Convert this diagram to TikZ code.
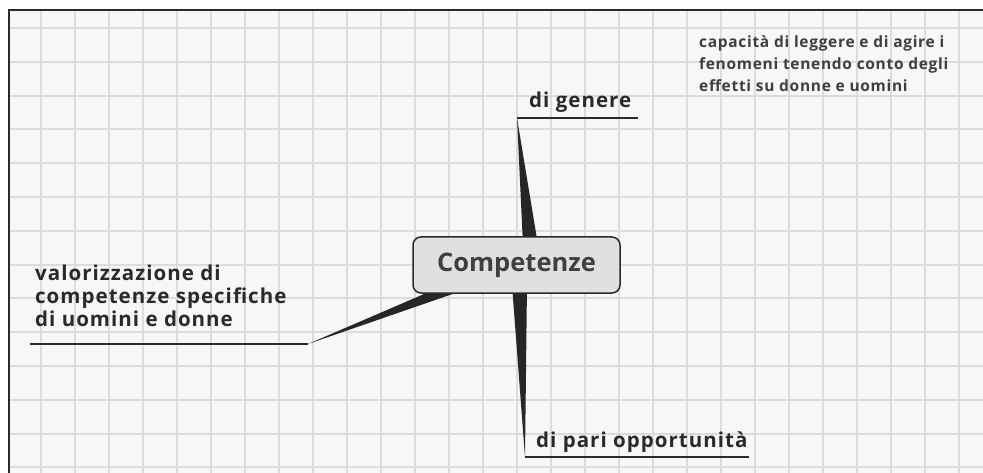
\documentclass[tikz,border=0pt]{standalone}
\usepackage{fontspec}
\setmainfont{Open Sans}
\newfontfamily\lblfont{Open Sans}[LetterSpace=5]
\newfontfamily\notefont{Open Sans}[LetterSpace=4.5]
\newfontfamily\boxfont{Open Sans}
\definecolor{bgc}{HTML}{F7F7F7}
\definecolor{gridc}{HTML}{DCDCDC}
\definecolor{inkc}{HTML}{2A2A2A}
\definecolor{boxc}{HTML}{E0E0E0}
\begin{document}
\begin{tikzpicture}[x=1pt,y=-1pt,
  lbl/.style={anchor=base west,inner sep=0pt,text=inkc,font=\lblfont\bfseries\fontsize{20.5}{23}\selectfont},
  note/.style={anchor=base west,inner sep=0pt,text=inkc!90,font=\notefont\bfseries\fontsize{15.5}{22}\selectfont},
  centerbox/.style={draw=inkc,line width=1.5pt,fill=boxc,rounded corners=8pt,minimum width=207pt,minimum height=56pt,text=inkc!90,font=\boxfont\bfseries\fontsize{25.5}{30}\selectfont,inner sep=0pt},
  uline/.style={draw=inkc,line width=1.3pt},
  wedge/.style={fill=inkc!90!black,draw=none}]
\useasboundingbox (0,0) rectangle (983,473);
\fill[white] (0,0) rectangle (983,473);
\fill[bgc] (9,10) rectangle (983,473);
\foreach \i in {0,...,27} {\draw[gridc,line width=2pt] (41+34*\i,10) -- (41+34*\i,473);}
\foreach \j in {0,...,13} {\draw[gridc,line width=2pt] (9,28+33.8*\j) -- (983,28+33.8*\j);}
\draw[inkc,line width=1.5pt] (9,473) -- (9,10) -- (983,10);

% anchors of branches
\coordinate (gA) at (517,118);
\coordinate (gB) at (638,118);
\coordinate (pA) at (525,457);
\coordinate (pB) at (749,457);
\coordinate (vA) at (30,344);
\coordinate (vB) at (308,344);

% tapered branches (behind the box)
\fill[wedge] (gA) -- (523,245) -- (538,245) -- cycle;
\fill[wedge] (512,285) -- (527,285) -- (pA) -- cycle;
\fill[wedge] (470,288) -- (438,288) -- (vB) -- cycle;

\node[centerbox] (c) at (516.5,265) {Competenze};

\draw[uline] (gA) -- (gB);
\draw[uline] (pA) -- (pB);
\draw[uline] (vA) -- (vB);

\node[lbl] (g) at (529,108) {di genere};
\node[lbl] (p) at (536,447) {di pari opportunità};
\node[lbl] (v1) at (35,280) {valorizzazione di};
\node[lbl] (v2) at (35,303) {competenze specifiche};
\node[lbl] (v3) at (35,326) {di uomini e donne};

\node[note] (n1) at (699,48) {capacità di leggere e di agire i};
\node[note] (n2) at (699,70) {fenomeni tenendo conto degli};
\node[note] (n3) at (699,92) {effetti su donne e uomini};
\end{tikzpicture}
\end{document}
